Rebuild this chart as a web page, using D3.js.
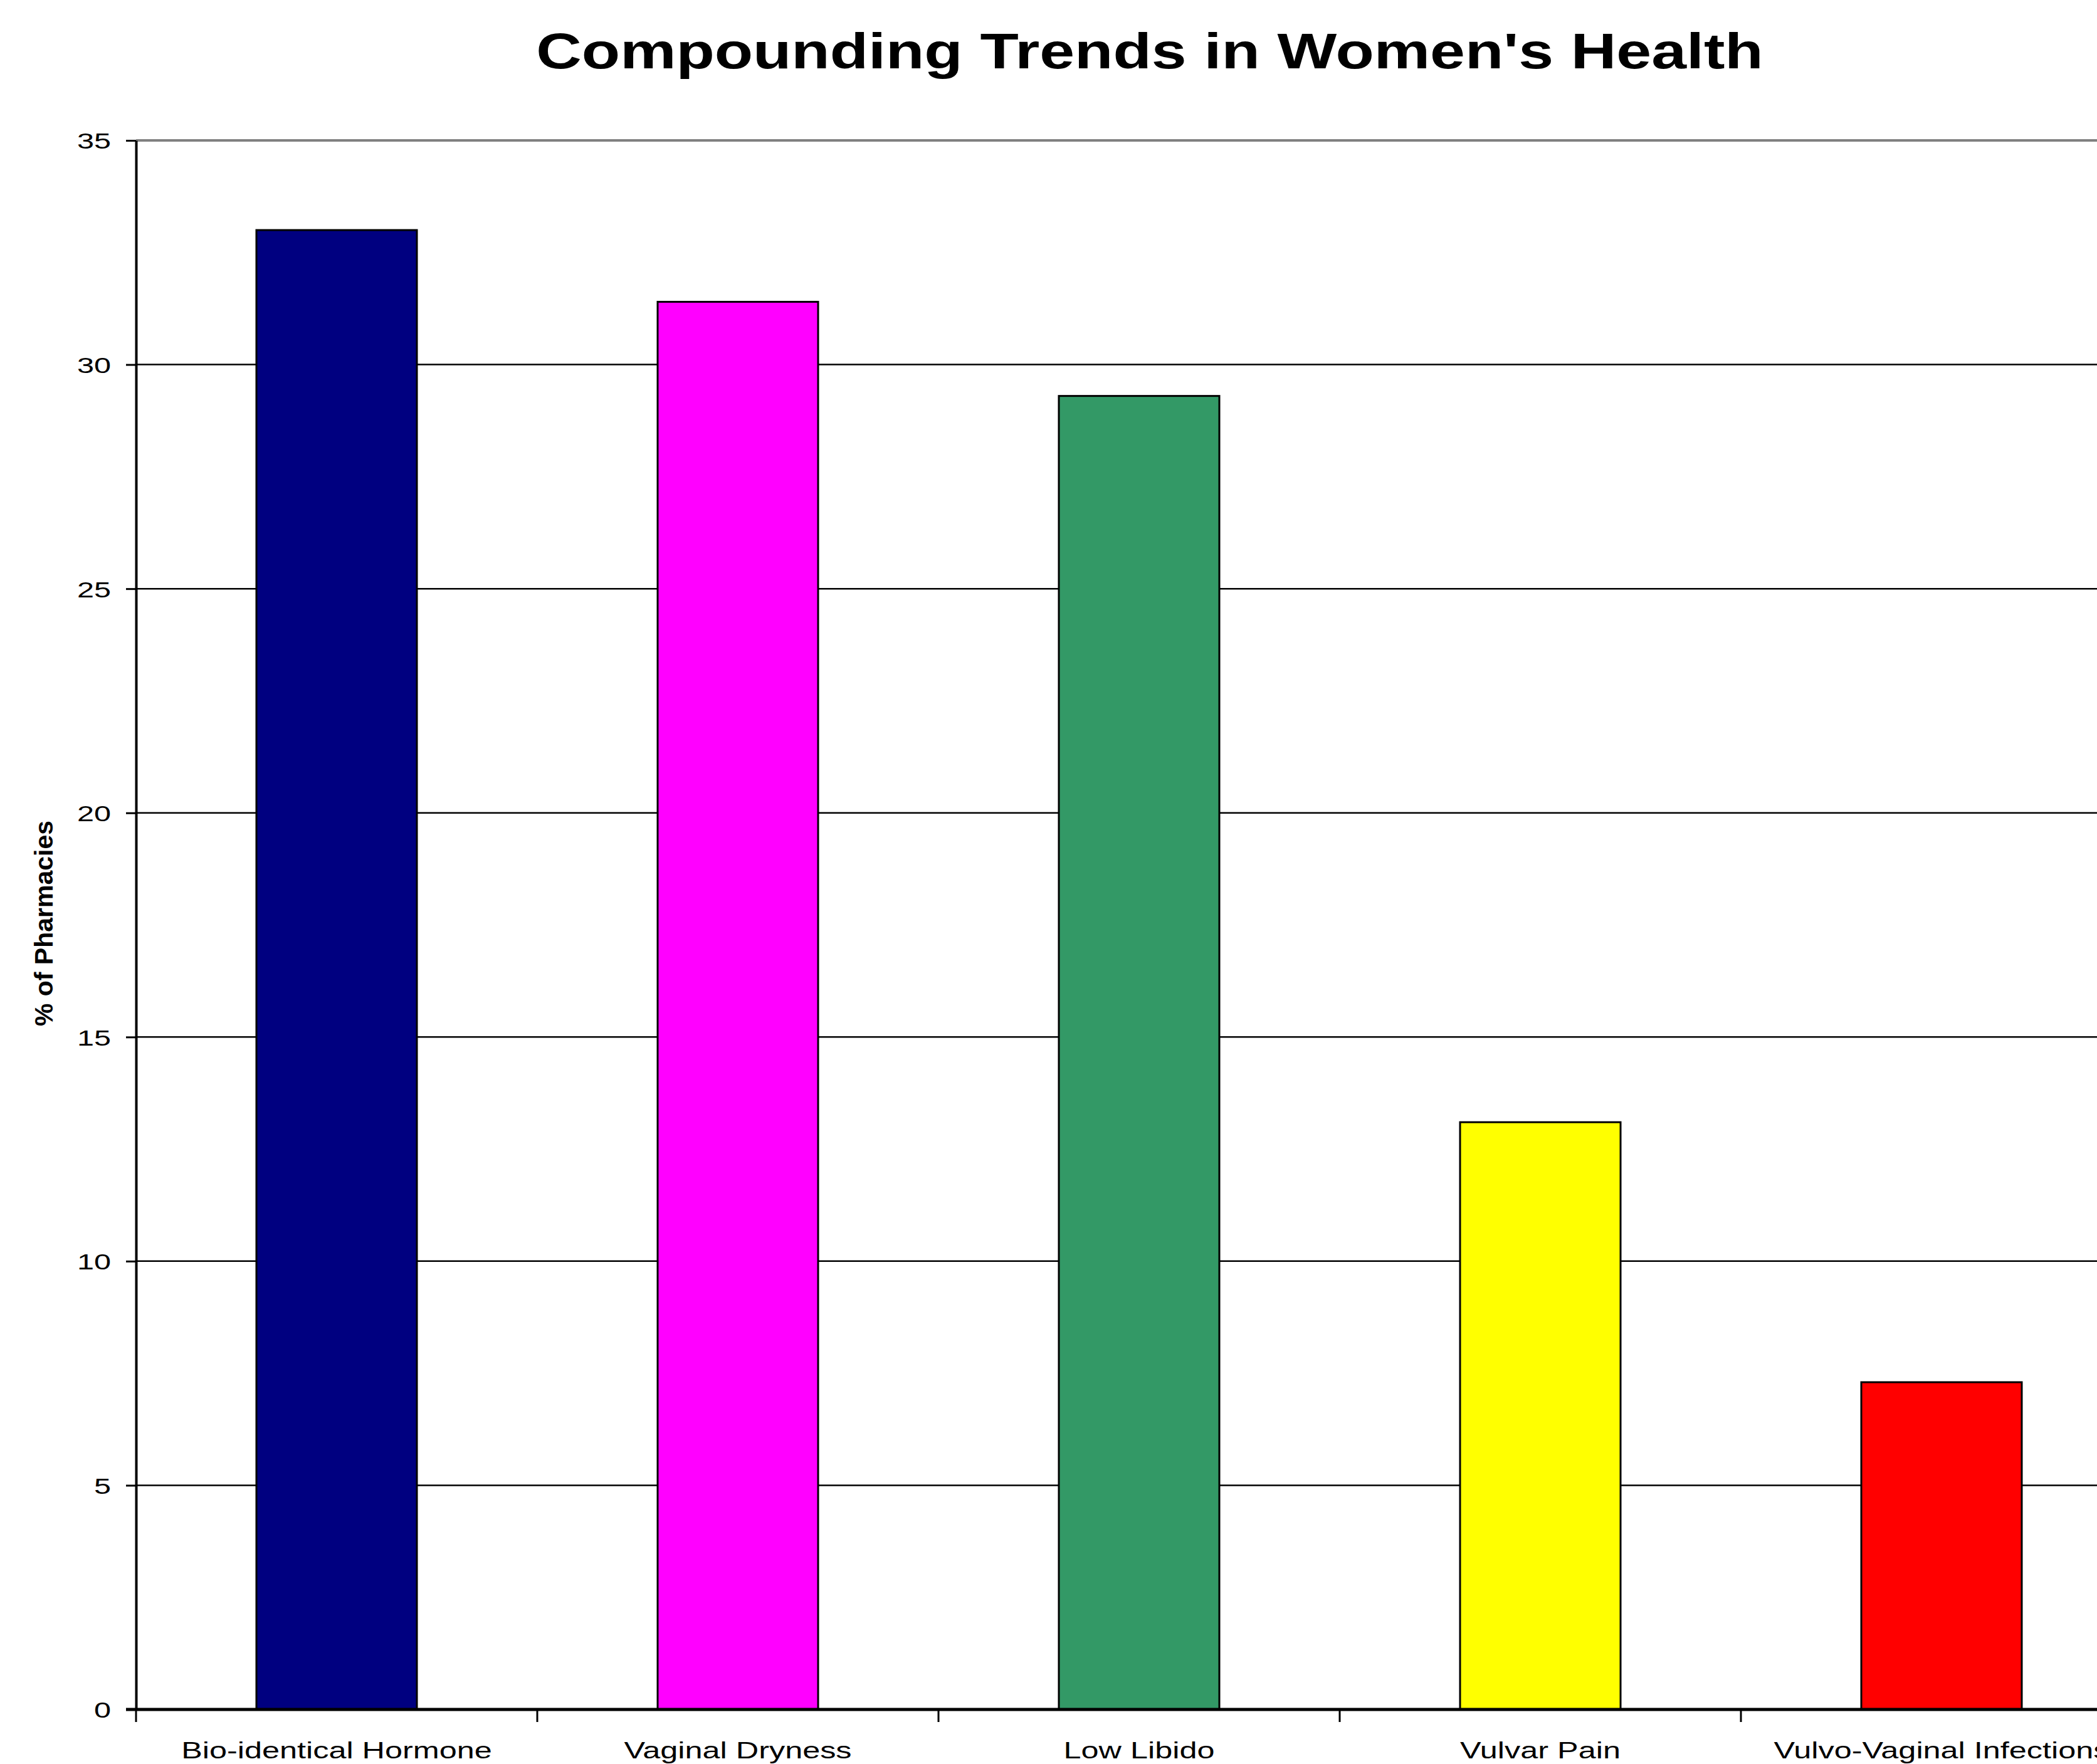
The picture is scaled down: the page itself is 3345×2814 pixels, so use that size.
<!DOCTYPE html>
<html>
<head>
<meta charset="utf-8">
<script src="https://d3js.org/d3.v7.min.js"></script>
<style>
body { margin: 0; background: #fff; }
.chart text { font-family: 'Liberation Sans', Arial, sans-serif; fill: #000; }
</style>
</head>
<body>
<div class="chart"></div>
<script>
// data
const categories = ["Bio-identical Hormone", "Vaginal Dryness", "Low Libido", "Vulvar Pain", "Vulvo-Vaginal Infections"];
const values = [33, 31.4, 29.3, 13.1, 7.3];
const colors = ["#000080", "#FF00FF", "#339966", "#FFFF00", "#FF0000"];
const yTicks = [0, 5, 10, 15, 20, 25, 30, 35];

const width = 3345, height = 2814;
const plotLeft = 217, plotTop = 224, plotBottom = 2727;
const step = 640; // plot runs past right edge, as in the original

const svg = d3.select(".chart").append("svg")
    .attr("width", width)
    .attr("height", height);

const x = d3.scaleBand()
    .domain(categories)
    .range([plotLeft, plotLeft + step * categories.length])
    .paddingInner(0.6)
    .paddingOuter(0.3);

const y = d3.scaleLinear()
    .domain([0, 35])
    .range([plotBottom, plotTop]);

// horizontal gridlines
svg.append("g")
    .selectAll("line")
    .data(yTicks.filter(d => d > 0))
    .enter().append("line")
    .attr("x1", plotLeft)
    .attr("x2", width)
    .attr("y1", d => y(d))
    .attr("y2", d => y(d))
    .attr("stroke", d => d == 35 ? "#808080" : "#000")
    .attr("stroke-width", d => d == 35 ? 4 : 2.5);

// bars
svg.append("g")
    .selectAll("rect")
    .data(values)
    .enter().append("rect")
    .attr("x", (d, i) => x(categories[i]))
    .attr("y", d => y(d))
    .attr("width", x.bandwidth())
    .attr("height", d => y(0) - y(d))
    .attr("fill", (d, i) => colors[i])
    .attr("stroke", "#000")
    .attr("stroke-width", 3);

// y axis
const yAxis = svg.append("g")
    .attr("transform", "translate(" + plotLeft + ",0)")
    .call(d3.axisLeft(y).tickValues(yTicks).tickSize(16).tickPadding(0).tickSizeOuter(0));
yAxis.select(".domain").attr("stroke", "#000").attr("stroke-width", 4);
yAxis.selectAll(".tick line").attr("stroke", "#000").attr("stroke-width", 3);
yAxis.selectAll(".tick text")
    .attr("font-size", 36)
    .attr("font-family", "'Liberation Sans', Arial, sans-serif")
    .attr("x", -40 / 1.35)
    .attr("dy", "0.36em")
    .attr("transform", "scale(1.35,1)");

// x axis (ticks sit between categories)
const xAxisG = svg.append("g").attr("transform", "translate(0," + plotBottom + ")");
xAxisG.append("line")
    .attr("x1", plotLeft - 16).attr("x2", width)
    .attr("stroke", "#000").attr("stroke-width", 5);
xAxisG.selectAll(".xt")
    .data(d3.range(categories.length + 1))
    .enter().append("line")
    .attr("class", "xt")
    .attr("x1", d => plotLeft + d * x.step())
    .attr("x2", d => plotLeft + d * x.step())
    .attr("y1", 0).attr("y2", 20)
    .attr("stroke", "#000").attr("stroke-width", 3);
xAxisG.selectAll(".xl")
    .data(categories)
    .enter().append("g")
    .attr("class", "xl")
    .attr("transform", d => "translate(" + (x(d) + x.bandwidth() / 2) + ",78)")
    .append("text")
    .attr("text-anchor", "middle")
    .attr("font-size", 36)
    .attr("transform", "scale(1.40,1)")
    .text(d => d);

// title
svg.append("g")
    .attr("transform", "translate(1834,109)")
    .append("text")
    .attr("text-anchor", "middle")
    .attr("font-size", 80)
    .attr("font-weight", "bold")
    .attr("transform", "scale(1.255,1)")
    .text("Compounding Trends in Women's Health");

// y label
svg.append("text")
    .attr("transform", "translate(84,1473) rotate(-90)")
    .attr("text-anchor", "middle")
    .attr("font-size", 41)
    .attr("font-weight", "bold")
    .text("% of Pharmacies");
</script>
</body>
</html>
